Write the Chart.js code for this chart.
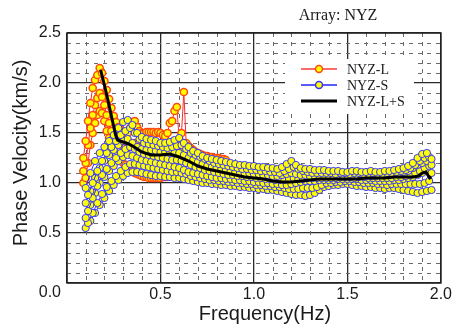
<!DOCTYPE html>
<html><head><meta charset="utf-8">
<script src="https://cdn.jsdelivr.net/npm/chart.js@4.4.1/dist/chart.umd.min.js"></script>
<style>html,body{margin:0;padding:0;background:#fff;}#wrap{width:454px;height:327px;}</style>
</head><body><div id="wrap"><canvas id="c" width="454" height="327"></canvas></div>
<script>
// ---- data ----
const freqL = [0.0875,0.1,0.1125,0.125,0.1375,0.15,0.1625,0.175,0.1875,0.2,0.2125,0.225,0.2375,0.25,0.2625,0.275,0.2875,0.3,0.3125,0.325,0.3375,0.35,0.3625,0.375,0.3875,0.4,0.4125,0.425,0.4375,0.45,0.4625,0.475,0.4875,0.5,0.5125,0.525,0.5375,0.55,0.5625,0.575,0.5875,0.6,0.6125,0.625,0.6375,0.65,0.6625,0.675,0.6875,0.7,0.7125,0.725,0.7375,0.75,0.7625,0.775,0.7875,0.8,0.8125,0.825,0.8375,0.85];
const velL1 = [1.25,1.42,1.62,1.80,1.95,2.03,2.08,2.15,2.10,2.02,1.93,1.84,1.75,1.67,1.61,1.56,1.53,1.51,1.50,1.50,1.55,1.61,1.62,1.56,1.52,1.50,1.50,1.51,1.51,1.51,1.51,1.50,1.51,1.50,1.48,1.47,1.50,1.60,1.62,1.72,1.76,1.44,1.50,1.91,1.40,1.37,1.35,1.33,1.31,1.30,1.29,1.28,1.27,1.27,1.26,1.26,1.25,1.25,1.25,1.24,1.24,1.23];
const velL2 = [1.12,1.20,1.38,1.55,1.68,1.78,1.85,1.90,1.86,1.78,1.68,1.60,1.52,1.46,1.42,1.40,1.38,1.37,1.36,1.35,1.36,1.38,1.40,1.38,1.36,1.35,1.34,1.33,1.33,1.32,1.32,1.31,1.31,1.30,1.30,1.30,1.31,1.33,1.38,1.42,1.40,1.32,1.30,1.35,1.28,1.26,1.24,1.22,1.21,1.20,1.19,1.18,1.18,1.17,1.17,1.16,1.16,1.15,1.15,1.15,1.14,1.14];
const velL3 = [1.00,1.05,1.20,1.38,1.50,1.60,1.68,1.72,1.70,1.62,1.52,1.45,1.38,1.33,1.28,1.25,1.22,1.20,1.18,1.16,1.14,1.12,1.10,1.09,1.08,1.07,1.06,1.06,1.05,1.05,1.05,1.05,1.05,1.05,1.06,1.06,1.06,1.07,1.07,1.08,1.08,1.08,1.09,1.09,1.09,1.10,1.10,1.10,1.11,1.11,1.11,1.11,1.10,1.10,1.09,1.08,1.06,1.04,1.02,1.01,1.00,1.00];

const freqS = [0.100,0.125,0.150,0.175,0.200,0.225,0.250,0.275,0.300,0.325,0.350,0.375,0.400,0.425,0.450,0.475,0.500,0.525,0.550,0.575,0.600,0.625,0.650,0.675,0.700,0.725,0.750,0.775,0.800,0.825,0.850,0.875,0.900,0.925,0.950,0.975,1.000,1.025,1.050,1.075,1.100,1.125,1.150,1.175,1.200,1.225,1.250,1.275,1.300,1.325,1.350,1.375,1.400,1.425,1.450,1.475,1.500,1.525,1.550,1.575,1.600,1.625,1.650,1.675,1.700,1.725,1.750,1.775,1.800,1.825,1.850,1.875,1.900,1.925,1.950];
const velS1 = [0.95,1.10,1.22,1.30,1.36,1.42,1.48,1.55,1.61,1.63,1.58,1.50,1.46,1.44,1.43,1.42,1.40,1.40,1.41,1.43,1.45,1.40,1.36,1.32,1.30,1.27,1.25,1.24,1.23,1.22,1.21,1.20,1.19,1.18,1.18,1.17,1.17,1.16,1.16,1.15,1.15,1.14,1.16,1.19,1.22,1.18,1.15,1.14,1.14,1.13,1.13,1.13,1.12,1.12,1.12,1.11,1.11,1.12,1.12,1.11,1.11,1.12,1.11,1.11,1.12,1.12,1.13,1.14,1.15,1.17,1.20,1.25,1.29,1.30,1.24];
const velS2 = [0.80,0.92,1.05,1.15,1.22,1.28,1.33,1.38,1.42,1.44,1.40,1.36,1.34,1.33,1.33,1.32,1.31,1.31,1.30,1.30,1.30,1.28,1.25,1.23,1.21,1.19,1.17,1.16,1.15,1.14,1.13,1.12,1.11,1.11,1.10,1.10,1.09,1.09,1.08,1.08,1.07,1.07,1.08,1.09,1.10,1.09,1.08,1.08,1.07,1.07,1.07,1.07,1.07,1.07,1.08,1.08,1.07,1.07,1.08,1.08,1.07,1.07,1.07,1.08,1.08,1.08,1.09,1.10,1.11,1.12,1.15,1.18,1.20,1.22,1.18];
const velS3 = [0.65,0.78,0.90,1.00,1.06,1.12,1.17,1.22,1.26,1.28,1.27,1.25,1.23,1.22,1.21,1.20,1.19,1.18,1.17,1.16,1.15,1.13,1.11,1.10,1.09,1.08,1.07,1.06,1.05,1.05,1.04,1.04,1.03,1.03,1.02,1.02,1.01,1.01,1.00,1.00,0.99,0.99,0.98,0.98,0.99,1.00,1.01,1.02,1.02,1.02,1.03,1.03,1.03,1.03,1.04,1.04,1.04,1.04,1.04,1.03,1.03,1.03,1.02,1.02,1.02,1.02,1.03,1.03,1.04,1.05,1.06,1.08,1.10,1.12,1.10];
const velS4 = [0.55,0.62,0.70,0.78,0.85,0.92,0.98,1.03,1.07,1.10,1.11,1.11,1.10,1.09,1.08,1.07,1.07,1.06,1.06,1.05,1.05,1.04,1.03,1.02,1.01,1.00,1.00,0.99,0.99,0.98,0.98,0.97,0.97,0.96,0.96,0.95,0.95,0.94,0.94,0.93,0.93,0.92,0.91,0.90,0.89,0.88,0.88,0.87,0.88,0.90,0.93,0.96,0.97,0.98,0.98,0.99,0.99,0.98,0.97,0.97,0.96,0.96,0.95,0.95,0.94,0.95,0.95,0.94,0.93,0.92,0.91,0.90,0.91,0.92,0.93];

const freqS2 = [0.1125,0.1375,0.1625,0.1875,0.2125,0.2375,0.2625,0.2875,0.3125,0.3375,0.3625,0.3875,0.4125,0.4375,0.4625,0.4875,0.5125,0.5375,0.5625,0.5875,0.6125,0.6375,0.6625,0.6875,0.7125,0.7375,0.7625,0.7875,0.8125,0.8375,0.8625,0.8875,0.9125,0.9375,0.9625,0.9875,1.0125,1.0375,1.0625,1.0875,1.1125,1.1375,1.1625,1.1875,1.2125,1.2375,1.2625,1.2875,1.3125,1.3375,1.3625,1.3875,1.4125,1.4375,1.4625,1.4875,1.5125,1.5375,1.5625,1.5875,1.6125,1.6375,1.6625,1.6875,1.7125,1.7375,1.7625,1.7875,1.8125,1.8375,1.8625,1.8875,1.9125,1.9375,1.9625];
const velS5 = [0.88,1.00,1.12,1.22,1.30,1.36,1.42,1.48,1.52,1.55,1.50,1.44,1.40,1.39,1.38,1.37,1.36,1.35,1.36,1.37,1.38,1.34,1.30,1.28,1.26,1.24,1.22,1.20,1.19,1.18,1.17,1.16,1.15,1.14,1.14,1.13,1.13,1.12,1.12,1.11,1.11,1.10,1.12,1.14,1.16,1.14,1.12,1.11,1.10,1.10,1.10,1.10,1.10,1.09,1.10,1.10,1.09,1.10,1.10,1.09,1.09,1.10,1.09,1.09,1.10,1.10,1.11,1.12,1.13,1.15,1.18,1.22,1.25,1.26,null];
const velS6 = [0.72,0.85,0.97,1.08,1.14,1.20,1.25,1.30,1.34,1.36,1.34,1.31,1.29,1.28,1.27,1.26,1.25,1.24,1.23,1.23,1.22,1.20,1.18,1.16,1.15,1.13,1.12,1.11,1.10,1.09,1.08,1.08,1.07,1.07,1.06,1.06,1.05,1.05,1.04,1.04,1.03,1.03,1.03,1.04,1.05,1.04,1.04,1.05,1.05,1.05,1.05,1.05,1.05,1.05,1.06,1.06,1.06,1.05,1.06,1.06,1.05,1.05,1.05,1.05,1.05,1.05,1.06,1.06,1.07,1.08,1.10,1.12,1.15,1.17,null];
const velS7 = [0.60,0.70,0.80,0.89,0.96,1.02,1.07,1.12,1.16,1.19,1.19,1.18,1.17,1.16,1.15,1.14,1.13,1.12,1.11,1.11,1.10,1.09,1.07,1.06,1.05,1.04,1.03,1.03,1.02,1.02,1.01,1.01,1.00,1.00,0.99,0.99,0.98,0.98,0.97,0.97,0.96,0.96,0.95,0.94,0.94,0.94,0.95,0.95,0.95,0.96,0.98,1.00,1.00,1.01,1.01,1.02,1.02,1.01,1.01,1.00,1.00,1.00,0.99,0.99,0.98,0.99,0.99,0.99,0.99,0.99,0.99,0.99,1.00,1.02,null];

const freqLS = [0.18,0.20,0.22,0.24,0.26,0.27,0.30,0.33,0.36,0.40,0.45,0.50,0.55,0.60,0.65,0.70,0.75,0.80,0.85,0.90,0.95,1.00,1.05,1.10,1.15,1.20,1.25,1.30,1.35,1.40,1.45,1.50,1.55,1.60,1.65,1.70,1.75,1.80,1.85,1.88,1.90,1.92,1.94,1.95];
const velLS  = [2.13,1.98,1.82,1.65,1.48,1.43,1.41,1.39,1.36,1.31,1.28,1.28,1.29,1.26,1.22,1.17,1.14,1.12,1.10,1.08,1.06,1.05,1.04,1.02,1.01,1.01,1.02,1.03,1.04,1.04,1.04,1.04,1.04,1.05,1.05,1.05,1.06,1.06,1.06,1.07,1.10,1.11,1.05,1.06];

const xTicks = [0.0,0.5,1.0,1.5,2.0];
const yTicks = [0.0,0.5,1.0,1.5,2.0,2.5];
const labelL = 'NYZ-L', labelS = 'NYZ-S', labelLS = 'NYZ-L+S';
const titleText = 'Array: NYZ';
const xTitle = 'Frequency(Hz)';
const yTitle = 'Phase Velocity(km/s)';

// ---- build ----
const pts = (fx, arr) => fx.map((f,i)=>({x:f,y:arr[i]})).filter(p=>p.y!=null);
const sansFont = "'Liberation Sans', Arial, sans-serif";
const serifFont = "'Liberation Serif', 'Times New Roman', serif";

function sDs(fx,arr){return {label:labelS,data:pts(fx,arr),showLine:true,borderColor:'#2a2aff',borderWidth:1,
  pointRadius:3.6,pointBackgroundColor:'#ffff00',pointBorderColor:'#3535ff',pointBorderWidth:1,tension:0};}
function lDs(arr){return {label:labelL,data:pts(freqL,arr),showLine:true,borderColor:'#ff2a2a',borderWidth:1,
  pointRadius:3.6,pointBackgroundColor:'#ffff00',pointBorderColor:'#ff4a10',pointBorderWidth:1.5,tension:0};}

const datasets = [
  {label:labelLS,data:pts(freqLS,velLS),showLine:true,borderColor:'#000',borderWidth:3,pointRadius:0,tension:0},
  sDs(freqS,velS1),sDs(freqS2,velS5),sDs(freqS,velS2),sDs(freqS2,velS6),sDs(freqS,velS3),sDs(freqS2,velS7),sDs(freqS,velS4),
  lDs(velL1),lDs(velL2),lDs(velL3)
];

const decor = {
  id:'decor',
  beforeDatasetsDraw(chart){
    const {ctx,chartArea:a,scales:{x,y}} = chart;
    ctx.save();
    ctx.strokeStyle='#6a6a6a';ctx.lineWidth=1;ctx.setLineDash([4,5]);
    for(let k=1;k<20;k++){ if(k%5===0) continue;
      const px=Math.round(x.getPixelForValue(k/10))+0.5;
      ctx.beginPath();ctx.moveTo(px,a.top);ctx.lineTo(px,a.bottom);ctx.stroke();}
    for(let k=1;k<25;k++){ if(k%5===0) continue;
      const py=Math.round(y.getPixelForValue(k/10))+0.5;
      ctx.beginPath();ctx.moveTo(a.left,py);ctx.lineTo(a.right,py);ctx.stroke();}
    ctx.restore();
  },
  afterDraw(chart){
    const {ctx,chartArea:a} = chart;
    ctx.save();
    ctx.setLineDash([]);
    ctx.strokeStyle='#222';ctx.lineWidth=1.5;
    ctx.strokeRect(a.left,a.top,a.right-a.left,a.bottom-a.top);
    // legend
    ctx.fillStyle='#fff';ctx.fillRect(285,59,129,55);
    const rows=[{lab:labelL,line:'#ff6a6a',lw:2,mk:'#ff4a10'},{lab:labelS,line:'#5a5aff',lw:2,mk:'#3535ff'},{lab:labelLS,line:'#000',lw:3,mk:null}];
    rows.forEach((r,i)=>{
      const yy=69+i*16;
      ctx.strokeStyle=r.line;ctx.lineWidth=r.lw;
      ctx.beginPath();ctx.moveTo(301,yy);ctx.lineTo(337,yy);ctx.stroke();
      if(r.mk){ctx.beginPath();ctx.arc(319,yy,3.5,0,Math.PI*2);ctx.fillStyle='#ffff00';ctx.fill();ctx.strokeStyle=r.mk;ctx.lineWidth=1.5;ctx.stroke();}
      ctx.fillStyle='#1a1a1a';ctx.font='14px '+serifFont;ctx.textAlign='left';ctx.textBaseline='middle';
      ctx.fillText(r.lab,347,yy+1);
    });
    // titles
    ctx.fillStyle='#1a1a1a';ctx.textAlign='center';ctx.textBaseline='middle';
    ctx.font='16px '+serifFont;ctx.fillText(titleText,338,16);
    ctx.font='20px '+sansFont;ctx.fillText(xTitle,265,314);
    ctx.save();ctx.translate(21,153);ctx.rotate(-Math.PI/2);ctx.fillText(yTitle,0,0);ctx.restore();
    ctx.font='16px '+sansFont;ctx.textAlign='right';ctx.fillText(yTicks[0].toFixed(1),61,293);
    ctx.restore();
  }
};

const tickFont = {family:sansFont,size:16};
new Chart(document.getElementById('c'),{
  type:'scatter',
  data:{datasets},
  options:{
    responsive:false,animation:false,devicePixelRatio:1,
    layout:{padding:{top:33,right:11,left:0,bottom:0}},
    plugins:{legend:{display:false},tooltip:{enabled:false}},
    scales:{
      x:{type:'linear',min:xTicks[0],max:xTicks[xTicks.length-1],
        afterBuildTicks:s=>{s.ticks=xTicks.map(v=>({value:v}));},
        ticks:{callback:v=>v===0?'':v.toFixed(1),font:tickFont,color:'#1a1a1a',padding:2,maxRotation:0,autoSkip:false},
        grid:{color:'#2a2a2a',lineWidth:1.3,drawTicks:false},border:{display:false},
        afterFit:s=>{s.height=44;}},
      y:{type:'linear',min:yTicks[0],max:yTicks[yTicks.length-1],
        afterBuildTicks:s=>{s.ticks=yTicks.map(v=>({value:v}));},
        ticks:{callback:v=>v===0?'':v.toFixed(1),font:tickFont,color:'#1a1a1a',padding:6,autoSkip:false},
        grid:{color:'#2a2a2a',lineWidth:1.3,drawTicks:false},border:{display:false},
        afterFit:s=>{s.width=67;}}
    }
  },
  plugins:[decor]
});
</script></body></html>
